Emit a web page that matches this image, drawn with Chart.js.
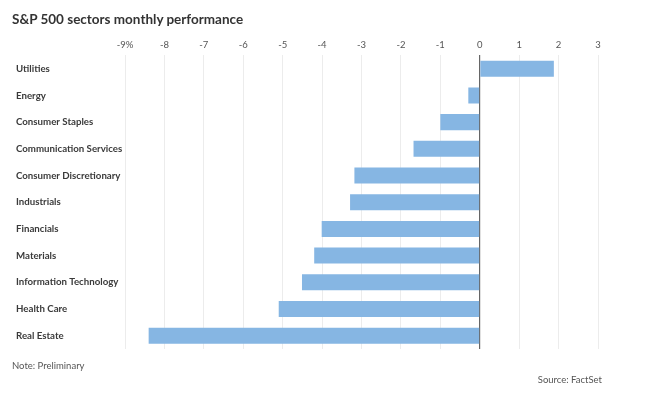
<!DOCTYPE html>
<html>
<head>
<meta charset="utf-8">
<script src="https://cdn.jsdelivr.net/npm/chart.js@4"></script>
<style>
  body { margin: 0; background: #fff; font-family: Lato, sans-serif; }
  #wrap { position: relative; width: 650px; height: 397px; }
  #chart { position: absolute; left: 0; top: 0; }
  .title { position: absolute; left: 12px; top: 11px; font-size: 13.5px; font-weight: bold; color: #333; }
  .note { position: absolute; left: 12px; top: 360px; font-size: 9.5px; color: #555; }
  .source { position: absolute; right: 48px; top: 374px; font-size: 9.5px; color: #555; }
</style>
</head>
<body>
<div id="wrap">
  <canvas id="chart" width="650" height="397"></canvas>
  <div class="title">S&amp;P 500 sectors monthly performance</div>
  <div class="note">Note: Preliminary</div>
  <div class="source">Source: FactSet</div>
</div>
<script>
// Sector names, top to bottom
const sectors = [
    'Utilities', 'Energy', 'Consumer Staples', 'Communication Services',
    'Consumer Discretionary', 'Industrials', 'Financials', 'Materials',
    'Information Technology', 'Health Care', 'Real Estate'
];

// Monthly change, percent
const performance = [1.88, -0.29, -1.0, -1.68, -3.18, -3.29, -4.01, -4.2, -4.51, -5.1, -8.4];

// Axis range
const axisMin = -9;
const axisMax = 3;

document.addEventListener('DOMContentLoaded', function() {
    const ctx = document.getElementById('chart').getContext('2d');
    new Chart(ctx, {
        type: 'bar',
        data: {
            labels: sectors,
            datasets: [{
                data: performance,
                backgroundColor: '#86b6e3',
                barPercentage: 0.6,
                categoryPercentage: 1.0,
            }]
        },
        options: {
            indexAxis: 'y',
            responsive: false,
            animation: false,
            layout: {
                padding: { left: 16, top: 34, right: 52, bottom: 48 }
            },
            plugins: {
                legend: { display: false },
                tooltip: { enabled: false }
            },
            scales: {
                x: {
                    position: 'top',
                    min: axisMin,
                    max: axisMax,
                    border: { display: false },
                    grid: {
                        drawTicks: false,
                        color: ctx => ctx.tick && ctx.tick.value === 0 ? '#666' : '#ececec',
                        lineWidth: ctx => ctx.tick && ctx.tick.value === 0 ? 1.2 : 1
                    },
                    ticks: {
                        stepSize: 1,
                        padding: 5,
                        color: '#555',
                        font: { family: 'Lato', size: 9.5 },
                        callback: v => v === axisMin ? v + '%' : String(v)
                    }
                },
                y: {
                    border: { display: false },
                    grid: { display: false, drawTicks: false },
                    afterFit: scale => { scale.width = 109; },
                    ticks: {
                        crossAlign: 'far',
                        padding: 0,
                        color: '#3a3a3a',
                        font: { family: 'Lato', size: 9.7, weight: 'bold' }
                    }
                }
            }
        }
    });
});
</script>
</body>
</html>
